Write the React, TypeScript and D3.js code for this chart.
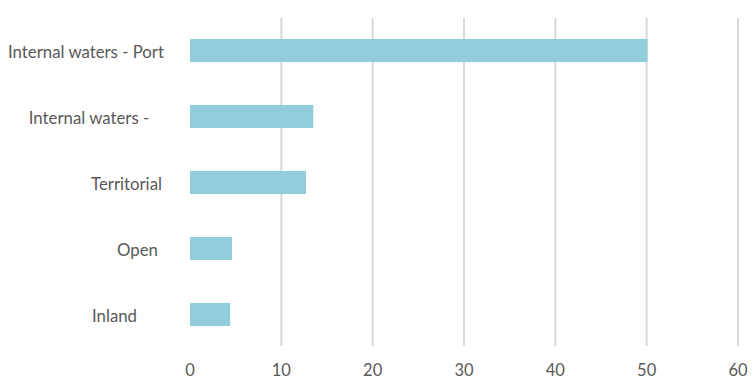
import React from "react";
import * as d3 from "d3";

const categories = ["Internal waters - Port", "Internal waters -", "Territorial", "Open", "Inland"];
const values = [50.1, 13.5, 12.7, 4.6, 4.4];
const tickValues = [0, 10, 20, 30, 40, 50, 60];
// label horizontal centres (Excel-style layout of the category labels)
const labelCentres = [86, 89, 126.5, 137.5, 114.5];

const W = 756;
const H = 384;

export default function App() {
  const x = d3.scaleLinear().domain([0, 60]).range([190, 738]);
  const y = d3.scaleBand<string>().domain(categories).range([17.5, 347.5]).paddingInner(0.65).paddingOuter(0.325);
  const font = "Lato, 'Open Sans', sans-serif";
  return (
    <svg width={W} height={H} style={{ position: "absolute", left: 0, top: 0, background: "#fff" }}>
      {tickValues.filter((t) => t > 0).map((t) => (
        <line key={t} x1={x(t)} x2={x(t)} y1={18} y2={346} stroke="#d9d9d9" strokeWidth={2} />
      ))}
      {categories.map((c, i) => (
        <rect key={c} x={x(0)} y={y(c)!} width={x(values[i]) - x(0)} height={y.bandwidth()} fill="#92cddc" />
      ))}
      {categories.map((c, i) => (
        <text key={c} x={labelCentres[i]} y={y(c)! + y.bandwidth() / 2 + 1.5} dy="0.35em" textAnchor="middle"
          fontFamily={font} fontSize={16.8} fill="#595959">{c}</text>
      ))}
      {tickValues.map((t) => (
        <text key={t} x={x(t)} y={370} dy="0.35em" textAnchor="middle" fontFamily={font} fontSize={16.5} fill="#595959">{t}</text>
      ))}
    </svg>
  );
}
